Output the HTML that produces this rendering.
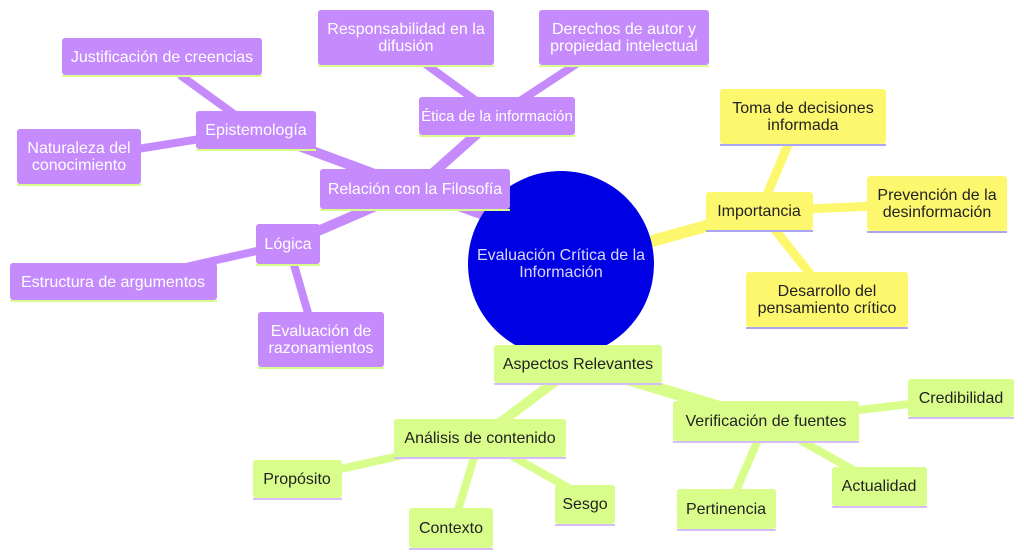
<!DOCTYPE html>
<html><head><meta charset="utf-8"><style>
html,body{margin:0;padding:0;background:#fff;}
svg{display:block;}
text{font-family:"Liberation Sans",sans-serif;font-size:16px;}
</style></head><body>
<svg width="1024" height="557" viewBox="0 0 1024 557" xmlns="http://www.w3.org/2000/svg">
<g stroke-linecap="butt">
<g stroke="#c58afc">
<line x1="500" y1="220" x2="415" y2="189" stroke-width="12"/>
<line x1="415" y1="189" x2="497" y2="116" stroke-width="10"/>
<line x1="497" y1="116" x2="420" y2="60" stroke-width="8"/>
<line x1="497" y1="116" x2="590" y2="55" stroke-width="8"/>
<line x1="415" y1="189" x2="256" y2="130" stroke-width="10"/>
<line x1="256" y1="130" x2="180" y2="75" stroke-width="8"/>
<line x1="256" y1="130" x2="100" y2="155" stroke-width="8"/>
<line x1="415" y1="189" x2="288" y2="244" stroke-width="10"/>
<line x1="288" y1="244" x2="150" y2="275" stroke-width="8"/>
<line x1="288" y1="244" x2="310" y2="320" stroke-width="8"/>
</g>
<g stroke="#fdf76d">
<line x1="620" y1="250" x2="760" y2="211" stroke-width="12"/>
<line x1="760" y1="211" x2="790" y2="140" stroke-width="9"/>
<line x1="760" y1="211" x2="900" y2="205" stroke-width="9"/>
<line x1="760" y1="211" x2="815" y2="280" stroke-width="9"/>
</g>
<g stroke="#d9fd8a">
<line x1="578" y1="364" x2="766" y2="421" stroke-width="12"/>
<line x1="578" y1="364" x2="480" y2="438" stroke-width="10"/>
<line x1="480" y1="438" x2="300" y2="478" stroke-width="8"/>
<line x1="480" y1="438" x2="455" y2="520" stroke-width="8"/>
<line x1="480" y1="438" x2="590" y2="500" stroke-width="8"/>
<line x1="766" y1="421" x2="960" y2="398" stroke-width="8"/>
<line x1="766" y1="421" x2="730" y2="505" stroke-width="8"/>
<line x1="766" y1="421" x2="880" y2="485" stroke-width="8"/>
</g>
</g>
<circle cx="561" cy="264" r="93" fill="#0000e5"/>
<text x="561" y="260" fill="#d8d8ff" text-anchor="middle">Evaluación Crítica de la</text>
<text x="561" y="277" fill="#d8d8ff" text-anchor="middle">Información</text>

<g fill="#c58afc">
<rect x="62" y="38" width="200" height="37" rx="3"/>
<rect x="318" y="10" width="176" height="55" rx="3"/>
<rect x="539" y="10" width="170" height="55" rx="3"/>
<rect x="196" y="111" width="120" height="38" rx="3"/>
<rect x="17" y="129" width="124" height="55" rx="3"/>
<rect x="419" y="97" width="156" height="38" rx="3"/>
<rect x="320" y="169" width="190" height="40" rx="3"/>
<rect x="256" y="224" width="64" height="40" rx="3"/>
<rect x="10" y="263" width="207" height="37" rx="3"/>
<rect x="258" y="312" width="126" height="55" rx="3"/>
</g>
<g fill="#d9fd8a">
<rect x="62" y="75" width="200" height="2"/>
<rect x="318" y="65" width="176" height="2"/>
<rect x="539" y="65" width="170" height="2"/>
<rect x="196" y="149" width="120" height="2"/>
<rect x="17" y="184" width="124" height="2"/>
<rect x="419" y="135" width="156" height="2"/>
<rect x="320" y="209" width="190" height="2"/>
<rect x="256" y="264" width="64" height="2"/>
<rect x="10" y="300" width="207" height="2"/>
<rect x="258" y="367" width="126" height="2"/>
</g>
<g fill="#ffffff" text-anchor="middle">
<text x="162" y="62">Justificación de creencias</text>
<text x="406" y="34">Responsabilidad en la</text>
<text x="406" y="51">difusión</text>
<text x="624" y="34">Derechos de autor y</text>
<text x="624" y="51">propiedad intelectual</text>
<text x="256" y="135">Epistemología</text>
<text x="79" y="153">Naturaleza del</text>
<text x="79" y="170">conocimiento</text>
<text x="497" y="121" style="font-size:15px">Ética de la información</text>
<text x="415" y="194">Relación con la Filosofía</text>
<text x="288" y="249">Lógica</text>
<text x="113" y="287">Estructura de argumentos</text>
<text x="321" y="336">Evaluación de</text>
<text x="321" y="353">razonamientos</text>
</g>

<g fill="#fdf76d">
<rect x="720" y="89" width="166" height="55" rx="3"/>
<rect x="706" y="192" width="107" height="38" rx="3"/>
<rect x="867" y="176" width="140" height="55" rx="3"/>
<rect x="746" y="272" width="162" height="55" rx="3"/>
</g>
<g fill="#a9a6f5">
<rect x="720" y="144" width="166" height="2"/>
<rect x="706" y="230" width="107" height="2"/>
<rect x="867" y="231" width="140" height="2"/>
<rect x="746" y="327" width="162" height="2"/>
</g>
<g fill="#222" text-anchor="middle">
<text x="803" y="113">Toma de decisiones</text>
<text x="803" y="130">informada</text>
<text x="759" y="216">Importancia</text>
<text x="937" y="200">Prevención de la</text>
<text x="937" y="217">desinformación</text>
<text x="827" y="296">Desarrollo del</text>
<text x="827" y="313">pensamiento crítico</text>
</g>

<g fill="#d9fd8a">
<rect x="494" y="345" width="168" height="38" rx="3"/>
<rect x="673" y="401" width="186" height="40" rx="3"/>
<rect x="908" y="379" width="106" height="38" rx="3"/>
<rect x="394" y="419" width="172" height="38" rx="3"/>
<rect x="253" y="460" width="89" height="38" rx="3"/>
<rect x="832" y="467" width="95" height="39" rx="3"/>
<rect x="677" y="489" width="99" height="40" rx="3"/>
<rect x="409" y="508" width="84" height="40" rx="3"/>
<rect x="555" y="485" width="60" height="39" rx="3"/>
</g>
<g fill="#d4bdfa">
<rect x="494" y="383" width="168" height="2"/>
<rect x="673" y="441" width="186" height="2"/>
<rect x="908" y="417" width="106" height="2"/>
<rect x="394" y="457" width="172" height="2"/>
<rect x="253" y="498" width="89" height="2"/>
<rect x="832" y="506" width="95" height="2"/>
<rect x="677" y="529" width="99" height="2"/>
<rect x="409" y="548" width="84" height="2"/>
<rect x="555" y="524" width="60" height="2"/>
</g>
<g fill="#222" text-anchor="middle">
<text x="578" y="369">Aspectos Relevantes</text>
<text x="766" y="426">Verificación de fuentes</text>
<text x="961" y="403">Credibilidad</text>
<text x="480" y="443">Análisis de contenido</text>
<text x="297" y="484">Propósito</text>
<text x="879" y="491">Actualidad</text>
<text x="726" y="514">Pertinencia</text>
<text x="451" y="533">Contexto</text>
<text x="585" y="509">Sesgo</text>
</g>
</svg>
</body></html>
